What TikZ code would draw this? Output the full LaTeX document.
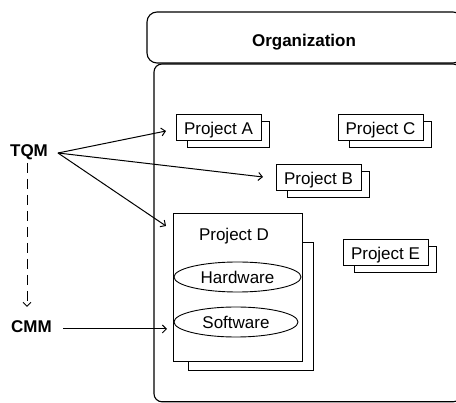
\documentclass[tikz,border=0pt]{standalone}
\usepackage{fontspec}
\setmainfont{Liberation Sans}
\usetikzlibrary{arrows.meta,shapes.geometric}
\begin{document}
\begin{tikzpicture}[x=1pt,y=-1pt,
  frame/.style={draw, line width=1.1pt},
  txt/.style={font=\fontsize{17}{20}\selectfont, text height=12.2pt, text depth=0pt, inner sep=0pt},
  lbl/.style={font=\bfseries\fontsize{17}{20}\selectfont, text height=12.2pt, text depth=0pt, inner sep=0pt},
  projfront/.style={draw, fill=white, line width=1pt, minimum width=85pt, minimum height=26pt, txt},
  projback/.style={draw, fill=white, line width=1pt, minimum width=82pt, minimum height=26pt, inner sep=0pt},
  part/.style={ellipse, draw, line width=0.9pt, inner sep=0pt, txt},
  arr/.style={line width=1pt, -{Straight Barb[length=4pt,width=8pt]}},
  dasharr/.style={arr, dash pattern=on 10pt off 6pt}]
\useasboundingbox (0,0) rectangle (456,403);
\clip (0,0) rectangle (456,403);
% frames
\draw[frame, rounded corners=8pt] (154,64) rectangle (461,401.8);
\draw[frame, rounded corners=10pt, fill=white] (147,12) rectangle (463,63);
\node[lbl, anchor=center] (org) at (304,40) {Organization};
% projects
\node[projback] (pAb) at (228,135) {};
\node[projfront] (pA) at (218.5,128) {Project A};
\node[projback] (pCb) at (390,135) {};
\node[projfront] (pC) at (380.5,128) {Project C};
\node[projback] (pBb) at (328,185) {};
\node[projfront] (pB) at (318.5,178) {Project B};
\node[projback] (pEb) at (395,260) {};
\node[projfront] (pE) at (385.5,253) {Project E};
\node[draw, fill=white, line width=1pt, minimum width=125pt, minimum height=128pt] (pDb) at (250.5,307) {};
\node[draw, fill=white, line width=1pt, minimum width=129pt, minimum height=148pt] (pD) at (237.5,288) {};
\node[txt] (pDl) at (234,234) {Project D};
\node[part, minimum width=127pt, minimum height=30pt] (hw) at (237.5,277) {Hardware};
\node[part, minimum width=124pt, minimum height=30pt] (sw) at (236,322) {Software};
% left labels
\node[lbl] (tqm) at (29,150) {TQM};
\node[lbl] (cmm) at (31.5,326.5) {CMM};
\coordinate (tqmout) at (58,153);
\coordinate (tqmdown) at (27,163);
\coordinate (cmmout) at (63,329);
\coordinate (toA) at (166,131);
\coordinate (toB) at (263,177);
\coordinate (toD) at (166,226);
\coordinate (toSW) at (167,329);
\coordinate (toCMM) at (27,307);
\draw[arr] (tqmout) -- (toA);
\draw[arr] (tqmout) -- (toB);
\draw[arr] (tqmout) -- (toD);
\draw[arr] (cmmout) -- (toSW);
\draw[dasharr] (tqmdown) -- (toCMM);
\end{tikzpicture}
\end{document}
